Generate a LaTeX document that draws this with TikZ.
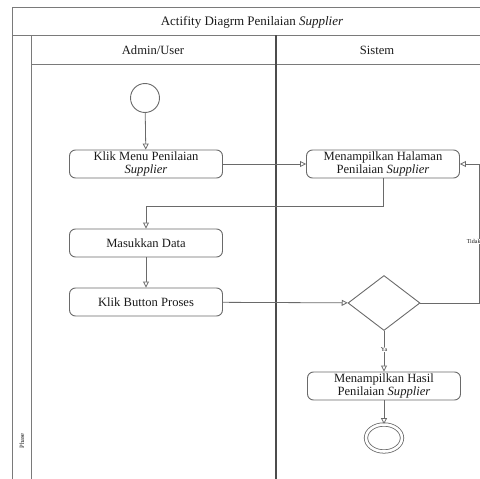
\documentclass[tikz,border=0pt]{standalone}
\usepackage{fontspec}
\setmainfont{Liberation Serif}
\usetikzlibrary{shapes.geometric,arrows.meta}
\definecolor{linegray}{HTML}{6A6A6A}
\definecolor{framegray}{HTML}{7A7A7A}
\definecolor{inkgray}{HTML}{1A1A1A}
\tikzset{
  action/.style={draw=linegray, line width=0.9pt, rounded corners=6pt,
    minimum width=153pt, minimum height=28pt, inner sep=1pt, align=center,
    text=inkgray, font=\fontsize{12.6}{13}\selectfont},
  flow/.style={draw=linegray, line width=0.8pt,
    -{Triangle[open, length=6pt, width=6pt, fill=white]}},
  lane/.style={draw=framegray, line width=0.9pt},
  heading/.style={text=inkgray, font=\fontsize{12.6}{13}\selectfont},
  guard/.style={text=inkgray, font=\fontsize{6}{6.5}\selectfont, fill=white, inner sep=0.5pt}
}
\begin{document}
\begin{tikzpicture}[x=1pt,y=-1pt]
  \useasboundingbox (0,0) rectangle (480,479);
  \clip (0,0) rectangle (480,479);

  % swimlane frame
  \draw[lane] (12,490) -- (12,7) -- (490,7);
  \draw[lane] (12,35) -- (490,35);
  \draw[lane] (31,35) -- (31,490);
  \draw[lane] (31,64) -- (490,64);
  \draw[draw=black!70, line width=1.4pt] (276,35) -- (276,490);

  % titles
  \node[heading, font=\fontsize{13}{14}\selectfont] (title) at (252,22) {Actifity Diagrm Penilaian \textit{Supplier}};
  \node[heading] (laneA) at (153,50) {Admin/User};
  \node[heading] (laneB) at (377,50) {Sistem};
  \node[text=inkgray, font=\fontsize{6.5}{7}\selectfont, rotate=90, anchor=west] (phase) at (22,452) {Phase};

  % activities
  \node[draw=linegray, line width=0.9pt, circle, minimum size=29pt, inner sep=0pt] (start) at (145,98) {};
  \node[action] (klik) at (146,164) {Klik Menu Penilaian\\\textit{Supplier}};
  \node[action] (tampil) at (383,164) {Menampilkan Halaman\\Penilaian \textit{Supplier}};
  \node[action] (masuk) at (146,243) {Masukkan Data};
  \node[action] (proses) at (146,302) {Klik Button Proses};
  \node[draw=linegray, line width=0.9pt, diamond, minimum width=72pt, minimum height=55pt, inner sep=0pt] (cek) at (384,303) {};
  \node[action] (hasil) at (384,386) {Menampilkan Hasil\\Penilaian \textit{Supplier}};
  \node[draw=linegray, line width=0.8pt, ellipse, double, double distance=2.6pt,
        minimum width=36pt, minimum height=27pt, inner sep=0pt] (akhir) at (384,438) {};

  % control flow
  \draw[flow] (start) -- (klik);
  \draw[flow] (klik) -- (tampil);
  \draw[flow] (tampil.south) -- ++(0,28) -| (masuk.north);
  \draw[flow] (masuk) -- (proses);
  \draw[flow] (proses) -- (cek);
  \draw[flow] (cek.east) -- ++(59,0) |- node[guard, pos=0.22, anchor=east, xshift=2pt] {Tidak} (tampil.east);
  \draw[flow] (cek) -- node[guard, pos=0.45] {Ya} (hasil);
  \draw[flow] (hasil) -- (akhir);
\end{tikzpicture}
\end{document}
